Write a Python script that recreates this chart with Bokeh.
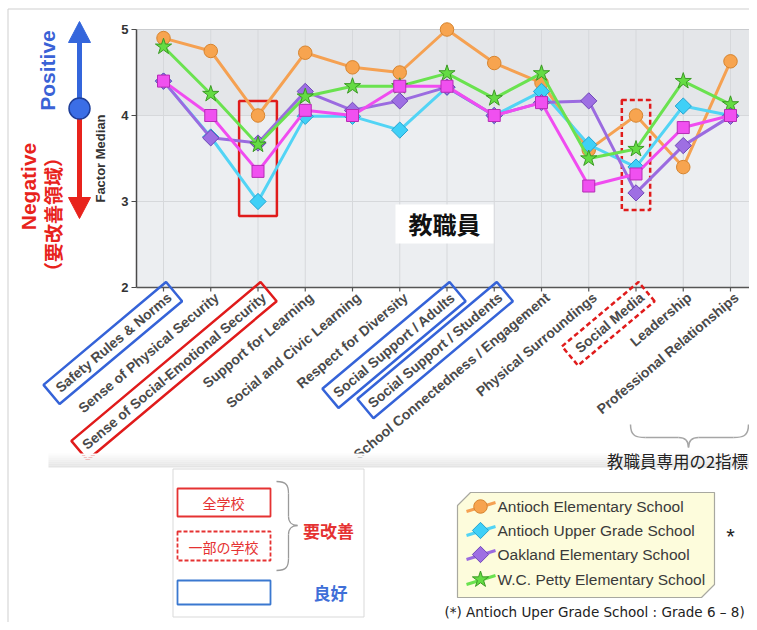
import numpy as np
from bokeh.plotting import figure
from bokeh.models import Range1d
from bokeh.embed import file_html
from bokeh.resources import INLINE
from bokeh.core.properties import value

# ---------------- data ----------------
categories = [
    "Safety Rules & Norms", "Sense of Physical Security",
    "Sense of Social-Emotional Security", "Support for Learning",
    "Social and Civic Learning", "Respect for Diversity",
    "Social Support / Adults", "Social Support / Students",
    "School Connectedness / Engagement", "Physical Surroundings",
    "Social Media", "Leadership", "Professional Relationships",
]
y_ticks = [2, 3, 4, 5]
series_names = ["Antioch Elementary School", "Antioch Upper Grade School",
                "Oakland Elementary School", "W.C. Petty Elementary School"]
antioch_elementary = [4.90, 4.75, 4.00, 4.73, 4.56, 4.50, 5.00, 4.61, 4.38, 3.60, 4.00, 3.40, 4.63]
antioch_upper = [4.40, 3.75, 3.00, 3.99, 3.99, 3.83, 4.33, 4.00, 4.28, 3.66, 3.40, 4.11, 4.00]
oakland = [4.40, 3.74, 3.68, 4.28, 4.06, 4.17, 4.33, 4.00, 4.15, 4.17, 3.10, 3.65, 3.99]
wc_petty = [4.80, 4.25, 3.66, 4.22, 4.34, 4.34, 4.49, 4.20, 4.49, 3.50, 3.61, 4.40, 4.13]
unlabeled_series = [4.40, 4.00, 3.35, 4.06, 4.00, 4.34, 4.34, 4.00, 4.15, 3.18, 3.32, 3.86, 4.00]

# ---------------- layout helpers (picture pixels -> data) ----------------
W, H = 749, 622
X0_PX, DX_PX = 163.0, 47.25
Y5_PX, DY_PX = 29.0, 86.0


def X(px):
    return (px - X0_PX) / DX_PX


def Y(py):
    return 5.0 - (py - Y5_PX) / DY_PX


def cx(i):
    return X0_PX + DX_PX * i


JP = value("Noto Sans CJK JP")
SANS = value("Liberation Sans")

p = figure(width=W, height=H, x_range=Range1d(X(0), X(W)),
           y_range=Range1d(Y(H), Y(0)), output_backend="svg",
           toolbar_location=None, x_axis_type=None, y_axis_type=None,
           min_border=0, outline_line_color=None,
           background_fill_color="white", border_fill_color="white")

# outer frame lines
p.segment(x0=[X(7.5), X(7.5)], y0=[Y(8.5), Y(8.5)], x1=[X(770), X(7.5)],
          y1=[Y(8.5), Y(640)], line_color="#cfcfcf", line_width=1)

# ---------------- plot area ----------------
n = len(categories)
idx = np.arange(n)
p.quad(left=[X(136)], right=[X(770)], top=[5], bottom=[4], fill_color="#e4e6e9", line_color=None)
p.quad(left=[X(136)], right=[X(770)], top=[4], bottom=[2], fill_color="#eceef1", line_color=None)
p.segment(x0=idx, y0=[2] * n, x1=idx, y1=[5] * n, line_color="#d6d8db", line_width=1)
p.segment(x0=[X(136)] * 2, y0=[3, 4], x1=[X(770)] * 2, y1=[3, 4], line_color="#d6d8db", line_width=1)
p.segment(x0=[X(136)], y0=[5], x1=[X(770)], y1=[5], line_color="#c9cbce", line_width=1)

# axes
p.segment(x0=[X(136)], y0=[2], x1=[X(136)], y1=[5], line_color="#4a4a4a", line_width=1.5)
p.segment(x0=[X(131)] * 4, y0=y_ticks, x1=[X(136)] * 4, y1=y_ticks, line_color="#4a4a4a", line_width=1.2)
p.segment(x0=[X(136)], y0=[2], x1=[X(770)], y1=[2], line_color="#555555", line_width=1.5)
p.segment(x0=idx, y0=[2] * n, x1=idx, y1=[Y(291)] * n, line_color="#555555", line_width=1.2)
p.text(x=[X(128)] * 4, y=y_ticks, text=[str(t) for t in y_ticks], text_align="right",
       text_baseline="middle", text_font=SANS, text_font_size="13px",
       text_font_style="bold", text_color="#333333")
p.text(x=[X(100)], y=[Y(158)], text=["Factor Median"], angle=np.pi / 2, text_align="center",
       text_baseline="middle", text_font=SANS, text_font_size="13px",
       text_font_style="bold", text_color="#333333")

# highlight boxes inside plot
p.quad(left=[2 - 0.4], right=[2 + 0.4], top=[4.17], bottom=[2.83], fill_color=None,
       line_color="#e01b1b", line_width=2.5)
p.quad(left=[10 - 0.3], right=[10 + 0.3], top=[4.18], bottom=[2.9], fill_color=None,
       line_color="#e01b1b", line_width=2.5, line_dash="5 3")

# 教職員 label
p.quad(left=[X(395)], right=[X(493)], top=[Y(204)], bottom=[Y(243)], fill_color="white", line_color=None)
p.text(x=[X(444)], y=[Y(223)], text=["教職員"], text_align="center", text_baseline="middle",
       text_font=JP, text_font_size="24px", text_font_style="bold", text_color="#111111")

# ---------------- series ----------------
series = [antioch_elementary, antioch_upper, oakland, wc_petty, unlabeled_series]
styles = [
    dict(line="#f5a152", fill="#f7a44f", edge="#d7842e", marker="circle", size=13.5, angle=0.0),
    dict(line="#52d4f5", fill="#3fd0f7", edge="#26a3d0", marker="square", size=11.5, angle=np.pi / 4),
    dict(line="#9b6be0", fill="#9e6fe3", edge="#7048b8", marker="square", size=11.5, angle=np.pi / 4),
    dict(line="#6ae24f", fill="#64dc43", edge="#3b9a25", marker="star", size=17, angle=0.0),
    dict(line="#f04cf0", fill="#f050f0", edge="#b52db5", marker="square", size=12, angle=0.0),
]
for vals, st in zip(series, styles):
    p.line(idx, vals, line_color=st["line"], line_width=3)
    p.scatter(idx, vals, marker=st["marker"], size=st["size"], angle=st["angle"],
              fill_color=st["fill"], line_color=st["edge"], line_width=1)

# ---------------- category labels ----------------
th = np.deg2rad(40)
ax_, ay_ = 6.0, 295.0
p.text(x=[X(cx(i) + ax_) for i in idx], y=[Y(ay_)] * n, text=categories, angle=th,
       text_align="right", text_baseline="middle", text_font=SANS, text_font_size="14px",
       text_font_style="bold", text_color="#4a4a4a")

BLUE_BOX, RED_BOX = "#3563d8", "#e01b1b"
box_specs = [(0, 160, BLUE_BOX, "solid"), (2, 247, RED_BOX, "solid"),
             (6, 166, BLUE_BOX, "solid"), (7, 182, BLUE_BOX, "solid"),
             (10, 100, RED_BOX, "5 3")]
d = np.array([np.cos(th), -np.sin(th)])
nv = np.array([np.sin(th), np.cos(th)])
for i, L, col, dash in box_specs:
    A = np.array([cx(i) + ax_, ay_])
    e = A + 6 * d
    s = e - L * d
    hw = 12.5
    pts = [e + hw * nv, e - hw * nv, s - hw * nv, s + hw * nv]
    p.patch([X(q[0]) for q in pts], [Y(q[1]) for q in pts], fill_color=None,
            line_color=col, line_width=2.5, line_dash=dash)

# bottom shadow band of the chart image
shades = ["#fcfcfc", "#f8f8f8", "#f4f4f4", "#f0f0f0", "#ececec", "#e8e8e8", "#e4e4e4"]
for k, c in enumerate(shades):
    p.quad(left=[X(48)], right=[X(770)], top=[Y(453 + 2 * k)], bottom=[Y(455 + 2 * k)],
           fill_color=c, line_color=None)


def brace(segs, color="#a6a6a6", width=1.5):
    bz = [s for s in segs if len(s) == 4]
    ln = [s for s in segs if len(s) == 2]
    if bz:
        p.bezier(x0=[X(s[0][0]) for s in bz], y0=[Y(s[0][1]) for s in bz],
                 x1=[X(s[3][0]) for s in bz], y1=[Y(s[3][1]) for s in bz],
                 cx0=[X(s[1][0]) for s in bz], cy0=[Y(s[1][1]) for s in bz],
                 cx1=[X(s[2][0]) for s in bz], cy1=[Y(s[2][1]) for s in bz],
                 line_color=color, line_width=width)
    if ln:
        p.segment(x0=[X(s[0][0]) for s in ln], y0=[Y(s[0][1]) for s in ln],
                  x1=[X(s[1][0]) for s in ln], y1=[Y(s[1][1]) for s in ln],
                  line_color=color, line_width=width)


# brace + note for the staff-only indicators
brace([((630, 424), (630, 436), (636, 437), (645, 437)), ((645, 437), (678, 437)),
       ((678, 437), (684, 437), (688, 440), (688, 447)),
       ((688, 447), (688, 440), (692, 437), (698, 437)), ((698, 437), (733, 437)),
       ((733, 437), (742, 437), (748, 436), (748, 424))])
p.text(x=[X(677)], y=[Y(460)], text=["教職員専用の2指標"], text_align="center",
       text_baseline="middle", text_font=JP, text_font_size="16.5px", text_color="#222222")

# ---------------- left arrows ----------------
AB, AR = "#3466dc", "#e8231c"
p.segment(x0=[X(79), X(79)], y0=[Y(107), Y(110)], x1=[X(79), X(79)], y1=[Y(40), Y(200)],
          line_color=[AB, AR], line_width=5)
p.patches(xs=[[X(79), X(68), X(90)], [X(79), X(68), X(90)]],
          ys=[[Y(21), Y(42), Y(42)], [Y(218), Y(197), Y(197)]],
          fill_color=[AB, AR], line_color=[AB, AR], line_width=1)
p.scatter([X(79)], [Y(108)], marker="circle", size=21, fill_color="#3b6ee6",
          line_color="#1f3f99", line_width=1.5)
p.text(x=[X(47)], y=[Y(70)], text=["Positive"], angle=np.pi / 2, text_align="center",
       text_baseline="middle", text_font=SANS, text_font_size="21px",
       text_font_style="bold", text_color="#3a62d6")
p.text(x=[X(28)], y=[Y(186)], text=["Negative"], angle=np.pi / 2, text_align="center",
       text_baseline="middle", text_font=SANS, text_font_size="21px",
       text_font_style="bold", text_color=AR)
p.text(x=[X(52)], y=[Y(214)], text=["（要改善領域）"], angle=np.pi / 2, text_align="center",
       text_baseline="middle", text_font=JP, text_font_size="19px",
       text_font_style="bold", text_color=AR)

# ---------------- box-meaning legend ----------------
LR, LB = "#e53232", "#3a78d0"
p.quad(left=[X(172.5)], right=[X(363.5)], top=[Y(468.5)], bottom=[Y(616.5)],
       fill_color="white", line_color="#d9d9d9", line_width=1)
p.quad(left=[X(177)], right=[X(270)], top=[Y(488)], bottom=[Y(516)], fill_color=None,
       line_color=LR, line_width=1.8)
p.quad(left=[X(177)], right=[X(270)], top=[Y(531)], bottom=[Y(560)], fill_color=None,
       line_color=LR, line_width=1.8, line_dash="4 2")
p.quad(left=[X(177)], right=[X(270)], top=[Y(580)], bottom=[Y(604)], fill_color=None,
       line_color=LB, line_width=1.8)
p.text(x=[X(223), X(223)], y=[Y(502), Y(546)], text=["全学校", "一部の学校"],
       text_align="center", text_baseline="middle", text_font=JP,
       text_font_size="14px", text_color=LR)
brace([((276, 481), (286, 481), (288, 485), (288, 493)), ((288, 493), (288, 516)),
       ((288, 516), (288, 522), (292, 525), (297, 525)),
       ((297, 525), (292, 525), (288, 528), (288, 534)), ((288, 534), (288, 558)),
       ((288, 558), (288, 566), (286, 570), (276, 570))], color="#9a9a9a", width=1.3)
p.text(x=[X(328)], y=[Y(530)], text=["要改善"], text_align="center", text_baseline="middle",
       text_font=JP, text_font_size="17px", text_font_style="bold", text_color=LR)
p.text(x=[X(330)], y=[Y(592)], text=["良好"], text_align="center", text_baseline="middle",
       text_font=JP, text_font_size="17px", text_font_style="bold", text_color="#3f6fd8")

# ---------------- series legend ----------------
lx0, lx1, ly0, ly1, ch = 457, 714, 492, 597, 13
poly = [(lx0 + ch, ly0), (lx1, ly0), (lx1, ly1 - ch), (lx1 - ch, ly1), (lx0, ly1), (lx0, ly0 + ch)]
p.patch([X(q[0]) for q in poly], [Y(q[1]) for q in poly], fill_color="#fdfcdc",
        line_color="#a8a8a0", line_width=1.2)
rows = [506, 530, 554, 579]
for ry, name, st in zip(rows, series_names, styles[:4]):
    p.segment(x0=[X(466)], y0=[Y(ry + 5)], x1=[X(495)], y1=[Y(ry - 4)],
              line_color=st["line"], line_width=3)
    p.scatter([X(480)], [Y(ry)], marker=st["marker"], size=st["size"], angle=st["angle"],
              fill_color=st["fill"], line_color=st["edge"], line_width=1)
p.text(x=[X(497)] * 4, y=[Y(r) for r in rows], text=series_names, text_align="left",
       text_baseline="middle", text_font=SANS, text_font_size="15.5px", text_color="#3a3a3a")
p.text(x=[X(730)], y=[Y(536)], text=["*"], text_align="center", text_baseline="middle",
       text_font=SANS, text_font_size="22px", text_color="#222222")
p.text(x=[X(444)], y=[Y(611)], text=["(*) Antioch Uper Grade School : Grade 6 – 8)"],
       text_align="left", text_baseline="middle", text_font=value("DejaVu Sans"),
       text_font_size="13.5px", text_color="#222222")

open("out.html", "w").write(file_html(p, INLINE))
